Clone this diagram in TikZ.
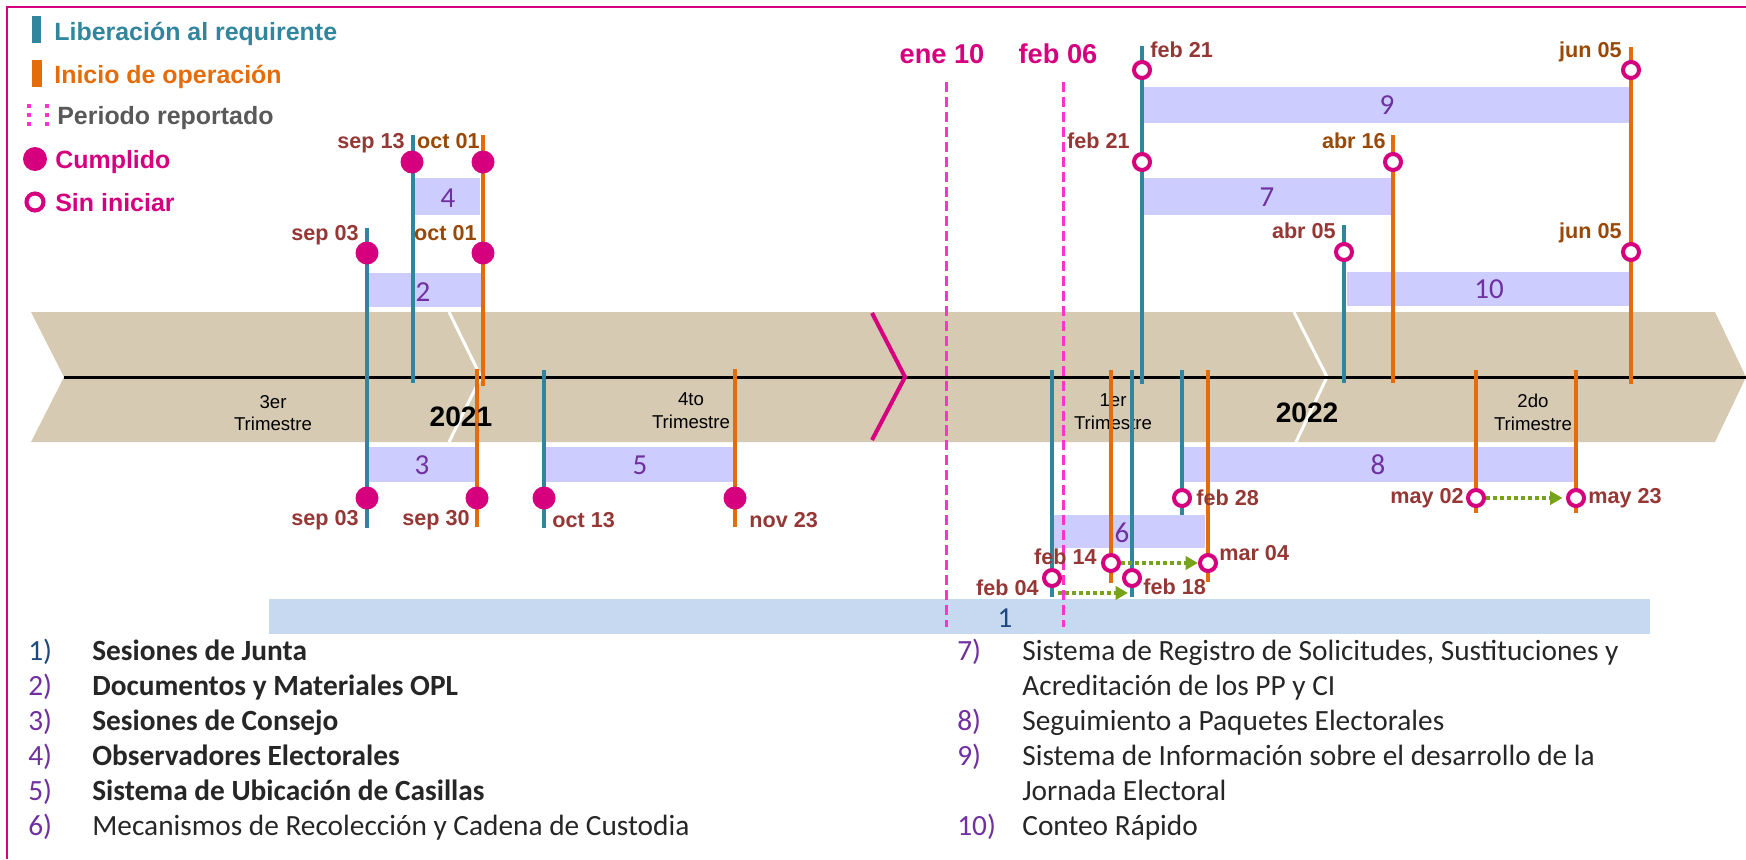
\documentclass[tikz,border=0pt]{standalone}
\usepackage{fontspec}
\setmainfont{Liberation Sans}
\newfontfamily\calibri{Carlito}
\usetikzlibrary{arrows.meta}

\definecolor{lib}{HTML}{31859C}
\definecolor{ini}{HTML}{E46C0A}
\definecolor{mag}{HTML}{D6007F}
\definecolor{rosa}{HTML}{FF33CC}
\definecolor{arena}{HTML}{D7CAB2}
\definecolor{lila}{HTML}{CCCCFF}
\definecolor{celeste}{HTML}{C6D9F1}
\definecolor{morado}{HTML}{7030A0}
\definecolor{marino}{HTML}{1F497D}
\definecolor{ladrillo}{HTML}{953735}
\definecolor{cafe}{HTML}{984807}
\definecolor{verde}{HTML}{77A31A}
\definecolor{gris}{HTML}{595959}
\definecolor{texto}{HTML}{262626}

\begin{document}
\begin{tikzpicture}[x=0.02cm,y=-0.02cm,
  hito/.style={line width=2.3pt},
  done/.style={circle,fill=mag,inner sep=0pt,minimum size=0.46cm},
  todo/.style={circle,draw=mag,fill=white,line width=2.3pt,inner sep=0pt,minimum size=0.32cm},
  fecha/.style={font=\fontsize{12.3}{14}\selectfont\bfseries,inner sep=0pt},
  num/.style={font=\calibri\fontsize{16.5}{18}\selectfont,text=morado},
  trim/.style={font=\fontsize{10.6}{13}\selectfont,align=center},
  anio/.style={font=\fontsize{16}{18}\selectfont\bfseries},
  leyenda/.style={font=\fontsize{14.2}{16}\selectfont\bfseries,anchor=base west,inner sep=0pt},
  lista/.style={font=\calibri\fontsize{16.7}{18}\selectfont,anchor=base west,inner sep=0pt,text=texto},
  flecha/.style={verde,line width=2.3pt,dash pattern=on 2.3pt off 1.7pt,-{Triangle[length=7pt,width=7.5pt]}}]

\useasboundingbox (0,0) rectangle (1746,859);
\draw[mag,line width=1.1pt] (7,859)--(7,7)--(1746,7);

% banda
\fill[arena] (31,312)--(1715,312)--(1746,377)--(1715,442)--(31,442)--(64,377)--cycle;
\draw[white,line width=1.7pt] (449,312)--(481,377)--(449,442);
\draw[white,line width=1.7pt] (1294,312)--(1327,377)--(1296,442);
\draw[line width=1.7pt] (64,377)--(1746,377);
\draw[mag,line width=2.3pt] (872,313)--(905,377)--(872,440);

\node[trim] (t3) at (273,413) {3er\\Trimestre};
\node[trim] (t4) at (691,411) {4to\\Trimestre};
\node[trim] (t1) at (1113,412) {1er\\Trimestre};
\node[trim] (t2) at (1533,412) {2do\\Trimestre};

% barras
\fill[celeste] (269,599) rectangle (1650,634);
\foreach \xa/\ya/\xb/\yb in {368/273/482/307, 369/447/476/482, 413/178/480/215, 545/447/734/482, 1054/515/1205/548, 1143/178/1391/215, 1184/447/1574/482, 1143/87/1629/123, 1347/272/1629/306}
  \fill[lila] (\xa,\ya) rectangle (\xb,\yb);
\node[num,text=marino] (n1) at (1005,618) {1};
\foreach \n/\x/\y in {2/423/292, 3/422/465, 4/448/198, 5/640/465, 6/1122/533, 7/1267/197, 8/1378/465, 9/1387/105, 10/1489/289}
  \node[num] (n\n) at (\x,\y) {\n};

% periodo reportado
\foreach \x in {946,1063}
  \draw[rosa,line width=1.7pt,dash pattern=on 5.7pt off 2.8pt] (\x,82)--(\x,627);
\node[font=\fontsize{15.5}{18}\selectfont\bfseries,text=mag,anchor=base] (ene) at (942,63) {ene 10};
\node[font=\fontsize{15.5}{18}\selectfont\bfseries,text=mag,anchor=base] (feb) at (1058,63) {feb 06};

% liberacion / inicio
\foreach \x/\ya/\yb in {367/228/528, 413/135/383, 544/370/528, 1052/370/597, 1132/370/597, 1142/46/384, 1182/370/515, 1344/225/383}
  \draw[hito,lib] (\x,\ya)--(\x,\yb);
\foreach \x/\ya/\yb in {483/135/386, 477/369/527, 735/369/527, 1111/370/583, 1208/370/582, 1393/135/383, 1476/370/513, 1576/370/513, 1631/47/384}
  \draw[hito,ini] (\x,\ya)--(\x,\yb);

\node[anio] (a21) at (461,417) {2021};
\node[anio] (a22) at (1307,413) {2022};

% hitos
\foreach \n/\x/\y in {sep13/412/162, oct01a/483/162, sep03a/367/253, oct01b/483/253, sep03b/367/498, sep30/477/498, oct13/544/498, nov23/735/498}
  \node[done] (\n) at (\x,\y) {};
\foreach \n/\x/\y in {feb21a/1142/70, jun05a/1631/70, feb21b/1142/162, abr16/1393/162, abr05/1344/252, jun05b/1631/252, feb28/1182/498, may02/1476/498, may23/1576/498, feb14/1111/563, mar04/1208/563, feb04/1052/578, feb18/1132/578}
  \node[todo] (\n) at (\x,\y) {};

\foreach \n/\x/\y/\a/\c/\t in {sep13/405/148/base east/ladrillo/sep 13, oct01a/480/148/base east/cafe/oct 01,
  sep03a/359/240/base east/ladrillo/sep 03, oct01b/477/240/base east/cafe/oct 01,
  sep03b/359/520/east/ladrillo/sep 03, sep30/470/520/east/ladrillo/sep 30,
  oct13/552/520/west/ladrillo/oct 13, nov23/749/520/west/ladrillo/nov 23,
  feb21a/1150/57/base west/ladrillo/feb 21, jun05a/1622/57/base east/cafe/jun 05,
  feb21b/1130/148/base east/ladrillo/feb 21, abr16/1386/148/base east/cafe/abr 16,
  abr05/1336/238/base east/ladrillo/abr 05, jun05b/1622/238/base east/cafe/jun 05,
  feb28/1196/498/west/ladrillo/feb 28, may02/1464/498/east/ladrillo/may 02,
  may23/1588/498/west/ladrillo/may 23, feb14/1097/557/east/ladrillo/feb 14,
  mar04/1219/553/west/ladrillo/mar 04, feb04/1039/588/east/ladrillo/feb 04,
  feb18/1143/587/west/ladrillo/feb 18}
  \node[fecha,anchor=\a,text=\c] (t-\n) at (\x,\y) {\t};

\draw[flecha,shorten >=2pt] (may02)--(may23);
\draw[flecha] (feb14)--(mar04);
\draw[flecha] ([xshift=3.4pt,yshift=-2.8pt]feb04.south)--([xshift=-2.3pt,yshift=-2.8pt]feb18.south);

% leyenda
\fill[lib] (32,16) rectangle (41,43);
\node[leyenda,text=lib] (l-lib) at (54,40) {Liberación al requirente};
\fill[ini] (32,60) rectangle (42,87);
\node[leyenda,text=ini] (l-ini) at (54,83) {Inicio de operación};
\foreach \x in {29,47}
  \draw[rosa,line width=2.8pt,dash pattern=on 2.3pt off 2.8pt] (\x,104)--(\x,128);
\node[leyenda,text=gris] (l-per) at (57,124) {Periodo reportado};
\node[done,minimum size=0.48cm] (l-done) at (35,159) {};
\node[leyenda,text=mag] (l-cum) at (55,168) {Cumplido};
\node[todo,minimum size=0.34cm] (l-todo) at (35,202) {};
\node[leyenda,text=mag] (l-sin) at (55,211) {Sin iniciar};

% lista
\node[lista,text=marino] (i1) at (28,660) {1)};
\foreach \i/\y in {2/695,3/730,4/765,5/800,6/835}
  \node[lista,text=morado] (i\i) at (28,\y) {\i)};
\foreach \i/\y/\t in {1/660/Sesiones de Junta, 2/695/Documentos y Materiales OPL, 3/730/Sesiones de Consejo, 4/765/Observadores Electorales, 5/800/Sistema de Ubicación de Casillas}
  \node[lista,font=\calibri\fontsize{16.7}{18}\selectfont\bfseries] (e\i) at (92,\y) {\t};
\node[lista] (e6) at (92,835) {Mecanismos de Recolección y Cadena de Custodia};
\foreach \i/\y in {7/660,8/730,9/765,10/835}
  \node[lista,text=morado] (i\i) at (957,\y) {\i)};
\node[lista] (e7) at (1022,660) {Sistema de Registro de Solicitudes, Sustituciones y};
\node[lista] (e7b) at (1022,695) {Acreditación de los PP y CI};
\node[lista] (e8) at (1022,730) {Seguimiento a Paquetes Electorales};
\node[lista] (e9) at (1022,765) {Sistema de Información sobre el desarrollo de la};
\node[lista] (e9b) at (1022,800) {Jornada Electoral};
\node[lista] (e10) at (1022,835) {Conteo Rápido};
\end{tikzpicture}
\end{document}
